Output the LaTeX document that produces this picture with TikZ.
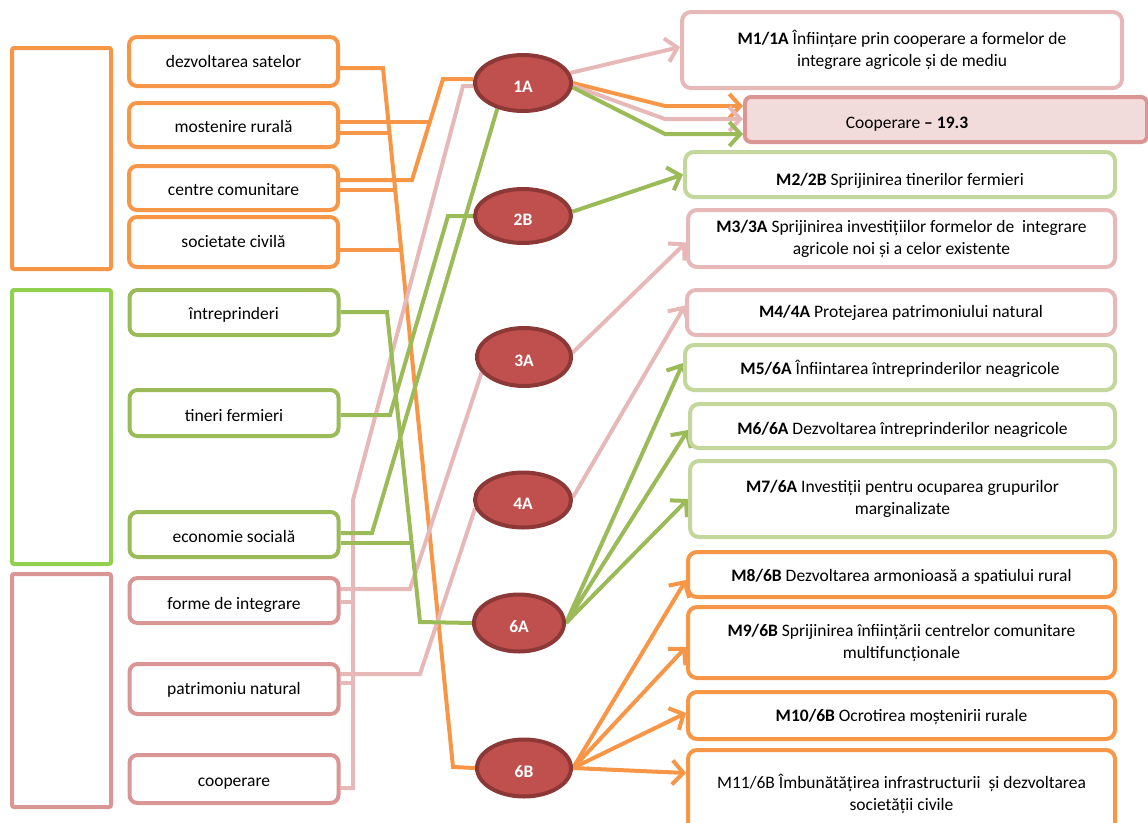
\documentclass[tikz,border=0pt]{standalone}
\usepackage{fontspec}
\setmainfont{Carlito}
\usetikzlibrary{arrows.meta,shapes.geometric}
\pgfdeclarelayer{bg}
\pgfsetlayers{bg,main}
\definecolor{cor}{HTML}{F79646}
\definecolor{cgr}{HTML}{9BBB59}
\definecolor{cgrl}{HTML}{C3D69B}
\definecolor{cgrb}{HTML}{92D050}
\definecolor{cpk}{HTML}{E6B9B8}
\definecolor{cpkd}{HTML}{D99694}
\definecolor{cpkf}{HTML}{F2DCDB}
\definecolor{ellf}{HTML}{C0504D}
\definecolor{ellb}{HTML}{8C3836}
\begin{document}
\begin{tikzpicture}[x=1pt,y=-1pt,
  tallbox/.style={draw, line width=4pt, rounded corners=2pt, inner sep=0pt, minimum width=99pt},
  lbox/.style={draw, fill=white, rounded corners=8pt, line width=4pt, inner sep=0pt, minimum width=209pt, font=\fontsize{17.5}{22}\selectfont, text=black},
  rbox/.style={draw, fill=white, rounded corners=9pt, line width=4pt, inner sep=0pt, minimum width=428pt, align=center, font=\fontsize{17.5}{22}\selectfont, text=black},
  th/.style={text depth=4pt, text height=#1},
  ell/.style={ellipse, draw=ellb, fill=ellf, line width=4pt, minimum width=96pt, minimum height=56pt, inner sep=0pt, text=white, font=\bfseries\fontsize{17.5}{18}\selectfont, text depth=0pt, text height=18pt},
  con/.style={line width=4pt},
  arr/.style={line width=4pt, -{Straight Barb[length=11pt,width=24pt]}}
]
\useasboundingbox (0,0) rectangle (1148,822);

% tall left boxes
\node[tallbox, draw=cor, minimum height=221pt] (to) at (61.5,158.5) {};
\node[tallbox, draw=cgrb, minimum height=274pt] (tg) at (61.5,427) {};
\node[tallbox, draw=cpkd, minimum height=233pt] (tp) at (61.5,690.5) {};

% left boxes
\node[lbox, draw=cor, minimum height=49pt, th=15.5pt] (ds) at (233.5,61.5) {dezvoltarea satelor};
\node[lbox, draw=cor, minimum height=44pt, th=18.5pt] (mr) at (233.5,125) {mostenire rurală};
\node[lbox, draw=cor, minimum height=44pt, th=18.5pt] (cc) at (233.5,188) {centre comunitare};
\node[lbox, draw=cor, minimum height=50pt, th=14.5pt] (sc) at (233.5,242) {societate civilă};
\node[lbox, draw=cgr, minimum height=45pt, th=17.5pt] (in) at (234,312.5) {întreprinderi};
\node[lbox, draw=cgr, minimum height=46pt, th=20.5pt] (tf) at (234,413) {tineri fermieri};
\node[lbox, draw=cgr, minimum height=45pt, th=19.5pt] (es) at (234,534.5) {economie socială};
\node[lbox, draw=cpkd, minimum height=45pt, th=21.5pt] (fi) at (234,600.5) {forme de integrare};
\node[lbox, draw=cpkd, minimum height=50pt, th=14.5pt] (pn) at (234,689) {patrimoniu natural};
\node[lbox, draw=cpkd, minimum height=48pt, th=18.5pt] (co) at (234,779) {cooperare};

% ellipses
\node[ell] (e1A) at (523,83) {1A};
\node[ell, minimum height=54pt] (e2B) at (523,216) {2B};
\node[ell, minimum width=94pt, minimum height=58pt] (e3A) at (524,357) {3A};
\node[ell, minimum height=55pt] (e4A) at (523,500) {4A};
\node[ell, minimum width=90pt, minimum height=57pt] (e6A) at (519,623) {6A};
\node[ell, minimum width=94pt, minimum height=57pt] (e6B) at (524,768) {6B};

% right boxes
\node[rbox, draw=cpk, minimum width=440pt, minimum height=76pt] (m1) at (902,50) {\textbf{M1/1A} Înființare prin cooperare a formelor de\\ integrare agricole și de mediu};
\node[draw=cpkd, fill=cpkf, rounded corners=6pt, line width=4pt, minimum width=402pt, minimum height=45pt, inner sep=0pt] (coop) at (946,119.5) {};
\node[font=\fontsize{17.5}{22}\selectfont, inner sep=0pt] (coopt) at (907,124) {Cooperare \textbf{– 19.3}};
\node[rbox, draw=cgrl, minimum width=430pt, minimum height=45pt, th=26.5pt] (m2) at (900,174.5) {\textbf{M2/2B} Sprijinirea tinerilor fermieri};
\node[rbox, draw=cpk, minimum width=427pt, minimum height=57pt] (m3) at (901.5,238.5) {\textbf{M3/3A} Sprijinirea investițiilor formelor de\ \ integrare\\ agricole noi și a celor existente};
\node[rbox, draw=cpk, minimum height=45pt, th=13.5pt] (m4) at (901,312.5) {\textbf{M4/4A} Protejarea patrimoniului natural};
\node[rbox, draw=cgrl, minimum width=430pt, minimum height=45pt, th=17.5pt] (m5) at (900,367.5) {\textbf{M5/6A} Înfiintarea întreprinderilor neagricole};
\node[rbox, draw=cgrl, minimum width=425pt, minimum height=44pt, th=20.5pt] (m6) at (902.5,426) {\textbf{M6/6A} Dezvoltarea întreprinderilor neagricole};
\node[rbox, draw=cgrl, minimum width=425pt, minimum height=76pt] (m7) at (902.5,499) {\textbf{M7/6A} Investiții pentru ocuparea grupurilor\\ marginalizate};
\node[rbox, draw=cor, minimum width=427pt, minimum height=45pt, th=17.5pt] (m8) at (901.5,574.5) {\textbf{M8/6B} Dezvoltarea armonioasă a spatiului rural};
\node[rbox, draw=cor, minimum width=427pt, minimum height=71pt] (m9) at (901.5,642.5) {\textbf{M9/6B} Sprijinirea înființării centrelor comunitare\\ multifuncționale};
\node[rbox, draw=cor, minimum width=427pt, minimum height=47pt, th=15.5pt] (m10) at (901.5,715.5) {\textbf{M10/6B} Ocrotirea moștenirii rurale};
\node[rbox, draw=cor, minimum width=427pt, minimum height=85pt, text depth=0pt] (m11) at (901.5,792.5) {M11/6B Îmbunătățirea infrastructurii\ \ și dezvoltarea\\ societății civile};

\begin{pgfonlayer}{bg}
% orange connectors
\draw[con, cor] ([yshift=-6.5pt]ds.east) -- (383,68) -- (453,767) -- (e6B.west);
\draw[con, cor] ([yshift=3pt]mr.east) -- (430,122);
\draw[con, cor] ([yshift=-8pt]mr.east) -- (389.5,133);
\draw[con, cor] ([yshift=8pt]cc.east) -- (412,180) -- (443,79) -- ([yshift=4pt]e1A.west);
\draw[con, cor] ([yshift=-2pt]cc.east) -- (395,190);
\draw[con, cor] ([yshift=-8pt]sc.east) -- (401,250);
% pink connectors
\draw[con, cpk] ([yshift=-3pt]e1A.west) -- (463,86) -- (353,500) -- (353,788) -- ([yshift=-9pt]co.east);
\draw[con, cpk] ([yshift=11.5pt]fi.east) -- (410,589) -- (e3A.200);
\draw[con, cpk] ([yshift=-1.5pt]fi.east) -- (353,602);
\draw[con, cpk] ([yshift=15pt]pn.east) -- (420,674) -- (e4A.190);
\draw[con, cpk] ([yshift=6pt]pn.east) -- (353,683);
% green connectors
\draw[con, cgr] (e1A.225) -- (372,533) -- ([yshift=1.5pt]es.east);
\draw[con, cgr] ([yshift=-8.5pt]es.east) -- (411.5,543);
\draw[con, cgr] (e2B.west) -- (448,216) -- (390,415) -- ([yshift=-2pt]tf.east);
\draw[con, cgr] ([yshift=0.5pt]in.east) -- (387,312) -- (420,622) -- (e6A.west);
% arrows right
\draw[arr, cpk] (e1A.12) -- ([yshift=3pt]m1.west);
\draw[arr, cor] (e1A.east) -- (665,106) -- ([yshift=13.5pt]coop.west);
\draw[arr, cpk] (e1A.-3) -- (665,119) -- ([yshift=0.5pt]coop.west);
\draw[arr, cgr] (e1A.-5) -- (665,134) -- ([yshift=-14.5pt]coop.west);
\draw[arr, cgr] (e2B.5) -- (m2.west);
\draw[arr, cpk] (e3A.5) -- ([yshift=-4pt]m3.west);
\draw[arr, cpk] (e4A.3) -- ([yshift=7pt]m4.west);
\draw[arr, cgr] (e6A.east) -- ([yshift=4.5pt]m5.west);
\draw[arr, cgr] (e6A.east) -- ([yshift=-4pt]m6.west);
\draw[arr, cgr] (e6A.east) -- (m7.west);
\draw[arr, cor] (e6B.east) -- ([yshift=-5.5pt]m8.west);
\draw[arr, cor] (e6B.east) -- ([yshift=-4.5pt]m9.west);
\draw[arr, cor] (e6B.east) -- ([yshift=2.5pt]m10.west);
\draw[arr, cor] (e6B.east) -- ([yshift=19.5pt]m11.west);
\end{pgfonlayer}
\end{tikzpicture}
\end{document}
